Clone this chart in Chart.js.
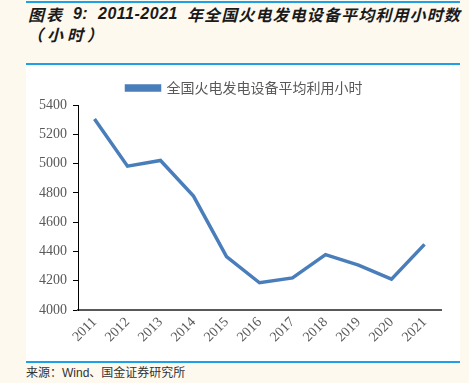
<!DOCTYPE html>
<html><head><meta charset="utf-8">
<script src="https://cdn.jsdelivr.net/npm/chart.js@4/dist/chart.umd.min.js"></script>
<style>
html,body{margin:0;padding:0;}
body{width:469px;height:383px;background:#fdf9ee;position:relative;overflow:hidden;font-family:"Noto Sans CJK SC",sans-serif;}
.bl{position:absolute;background:#1ea0e6;height:2px;}
.t{position:absolute;font-weight:bold;font-style:italic;font-size:16px;color:#1a1a1a;white-space:nowrap;line-height:20px;}
.n{font-family:"Liberation Sans",Arial,sans-serif;}
#panel{position:absolute;left:26px;top:64px;width:434px;height:298px;background:#fff;}
#cv{position:absolute;left:26px;top:65px;}
.src{position:absolute;left:26px;top:364px;font-size:12px;color:#333;white-space:nowrap;line-height:16px;}
</style></head><body>
<div class="bl" style="left:26px;top:1px;width:434px;"></div>
<div class="t fit" style="top:4px;left:28px;" data-w="36">图表</div>
<div class="t n fit" style="top:4px;left:73px;" data-w="15">9:</div>
<div class="t n fit" style="top:4px;left:98px;" data-w="80">2011-2021</div>
<div class="t fit" style="top:4px;left:187px;" data-w="274">年全国火电发电设备平均利用小时数</div>
<div class="t" style="top:24px;left:27px;letter-spacing:4px;">（小时）</div>
<div id="panel"></div>
<div class="bl" style="left:26px;top:63px;width:434px;"></div>
<div class="bl" style="left:26px;top:361px;width:434px;"></div>
<canvas id="cv" width="434" height="296" style="width:434px;height:296px;"></canvas>
<div class="src">来源：<span class="n">Wind</span>、国金证券研究所</div>
<script>
const years = ['2011','2012','2013','2014','2015','2016','2017','2018','2019','2020','2021'];
const hours = [5305, 4982, 5021, 4778, 4364, 4186, 4219, 4378, 4307, 4211, 4448];
const seriesName = '全国火电发电设备平均利用小时';
const yMin = 4000, yMax = 5400, yStep = 200;

// fit title runs to the reference widths via letter-spacing
document.querySelectorAll('.fit').forEach(el => {
  el.style.letterSpacing = '0px';
  const w = el.getBoundingClientRect().width;
  const target = parseFloat(el.dataset.w);
  const n = el.textContent.length;
  el.style.letterSpacing = Math.max(0, (target - w) / n) + 'px';
});

const legendShift = {
  id: 'legendShift',
  afterLayout(chart) {
    if (chart.legend) { chart.legend.left += 11; chart.legend.right += 11; }
  }
};

new Chart(document.getElementById('cv'), {
  type: 'line',
  data: {
    labels: years,
    datasets: [{
      label: seriesName,
      data: hours,
      borderColor: '#4a7ebb',
      backgroundColor: '#4a7ebb',
      borderWidth: 3.5,
      pointRadius: 0,
      tension: 0,
      fill: false
    }]
  },
  plugins: [legendShift],
  options: {
    responsive: false,
    animation: false,
    devicePixelRatio: 1,
    layout: { padding: { top: 0, left: 0, right: 19, bottom: 0 } },
    plugins: {
      legend: {
        display: true,
        position: 'top',
        labels: {
          boxWidth: 33, boxHeight: 4, padding: 16,
          color: '#595959',
          font: { family: '"Noto Sans CJK SC"', size: 14 }
        }
      },
      tooltip: { enabled: false }
    },
    scales: {
      x: {
        offset: true,
        grid: { display: false, drawTicks: false },
        border: { display: true, color: '#595959', width: 2 },
        ticks: {
          color: '#595959', minRotation: 45, maxRotation: 45, padding: 4,
          font: { family: '"Liberation Serif"', size: 14 }
        },
        afterFit: s => { s.height = 51; }
      },
      y: {
        min: yMin, max: yMax,
        grid: { display: true, drawOnChartArea: false, drawTicks: true, tickLength: 5, color: '#000' },
        border: { display: true, color: '#000', width: 1 },
        ticks: {
          stepSize: yStep, color: '#595959', padding: 6,
          font: { family: '"Liberation Serif"', size: 14 },
          callback: v => String(v)
        },
        afterFit: s => { s.width = 52; }
      }
    }
  }
});
</script>
</body></html>
